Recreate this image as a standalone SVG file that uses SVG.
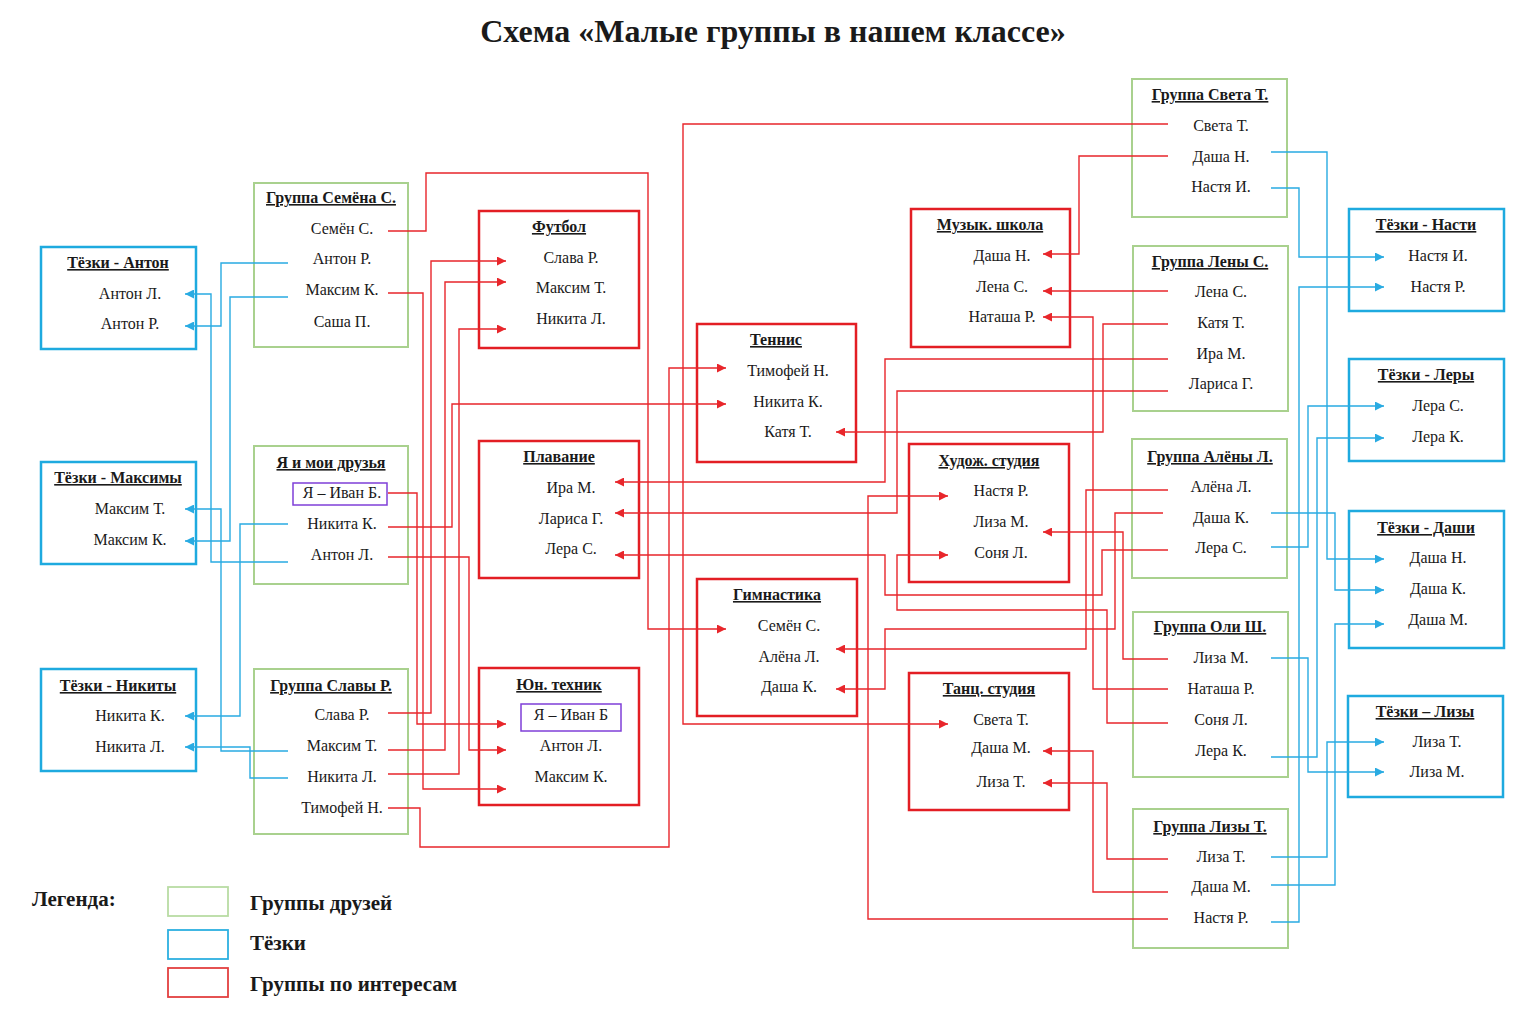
<svg xmlns="http://www.w3.org/2000/svg" width="1536" height="1012" viewBox="0 0 1536 1012">
<defs>
<marker id="ar" markerUnits="userSpaceOnUse" markerWidth="9" markerHeight="9" viewBox="0 0 8 8" refX="8" refY="4" orient="auto"><path d="M0,0 L8,4 L0,8 z" fill="#e8262b"/></marker>
<marker id="ab" markerUnits="userSpaceOnUse" markerWidth="9" markerHeight="9" viewBox="0 0 8 8" refX="8" refY="4" orient="auto"><path d="M0,0 L8,4 L0,8 z" fill="#29abe2"/></marker>
</defs>
<style>
text{font-family:"Liberation Serif","Times New Roman",serif;fill:#1a1a1a;text-anchor:middle;font-size:16px}
.h{font-weight:bold;font-size:16px;text-decoration:underline}
.g{fill:#fff;stroke:#a9d18e;stroke-width:2}
.bl{fill:#fff;stroke:#1eaadf;stroke-width:2.5}
.rd{fill:#fff;stroke:#e31e24;stroke-width:2.5}
.pp{fill:none;stroke:#7f3fd8;stroke-width:1.5}
.cr{fill:none;stroke:#e8262b;stroke-width:1.4;marker-end:url(#ar)}
.cb{fill:none;stroke:#29abe2;stroke-width:1.4;marker-end:url(#ab)}
.lg{font-weight:bold;font-size:21px;text-anchor:start}
</style>
<rect width="1536" height="1012" fill="#fff"/>
<text x="773" y="42" style="font-weight:bold;font-size:32px">Схема «Малые группы в нашем классе»</text>

<g id="grp-semen"><rect class="g" x="254" y="183" width="154" height="164"/><text class="h" x="331" y="203">Группа Семёна С.</text><text x="342" y="234">Семён С.</text><text x="342" y="264">Антон Р.</text><text x="342" y="295">Максим К.</text><text x="342" y="327">Саша П.</text></g>
<g id="grp-me"><rect class="g" x="254" y="446" width="154" height="138"/><text class="h" x="331" y="468">Я и мои друзья</text><rect class="pp" x="293" y="483" width="94" height="22"/><text x="342" y="498">Я – Иван Б.</text><text x="342" y="529">Никита К.</text><text x="342" y="560">Антон Л.</text></g>
<g id="grp-slava"><rect class="g" x="254" y="669" width="154" height="165"/><text class="h" x="331" y="691">Группа Славы Р.</text><text x="342" y="720">Слава Р.</text><text x="342" y="751">Максим Т.</text><text x="342" y="782">Никита Л.</text><text x="342" y="813">Тимофей Н.</text></g>
<g id="grp-sveta"><rect class="g" x="1132" y="79" width="155" height="138"/><text class="h" x="1210" y="100">Группа Света Т.</text><text x="1221" y="131">Света Т.</text><text x="1221" y="162">Даша Н.</text><text x="1221" y="192">Настя И.</text></g>
<g id="grp-lena"><rect class="g" x="1133" y="246" width="155" height="165"/><text class="h" x="1210" y="267">Группа Лены С.</text><text x="1221" y="297">Лена С.</text><text x="1221" y="328">Катя Т.</text><text x="1221" y="359">Ира М.</text><text x="1221" y="389">Лариса Г.</text></g>
<g id="grp-alena"><rect class="g" x="1132" y="439" width="155" height="139"/><text class="h" x="1210" y="462">Группа Алёны Л.</text><text x="1221" y="492">Алёна Л.</text><text x="1221" y="523">Даша К.</text><text x="1221" y="553">Лера С.</text></g>
<g id="grp-olya"><rect class="g" x="1133" y="612" width="155" height="165"/><text class="h" x="1210" y="632">Группа Оли Ш.</text><text x="1221" y="663">Лиза М.</text><text x="1221" y="694">Наташа Р.</text><text x="1221" y="725">Соня Л.</text><text x="1221" y="756">Лера К.</text></g>
<g id="grp-liza"><rect class="g" x="1133" y="809" width="155" height="139"/><text class="h" x="1210" y="832">Группа Лизы Т.</text><text x="1221" y="862">Лиза Т.</text><text x="1221" y="892">Даша М.</text><text x="1221" y="923">Настя Р.</text></g>

<g id="tz-anton"><rect class="bl" x="41" y="247" width="155" height="102"/><text class="h" x="118" y="268">Тёзки - Антон</text><text x="130" y="299">Антон Л.</text><text x="130" y="329">Антон Р.</text></g>
<g id="tz-maksim"><rect class="bl" x="41" y="462" width="155" height="102"/><text class="h" x="118" y="483">Тёзки - Максимы</text><text x="130" y="514">Максим Т.</text><text x="130" y="545">Максим К.</text></g>
<g id="tz-nikita"><rect class="bl" x="41" y="669" width="155" height="102"/><text class="h" x="118" y="691">Тёзки - Никиты</text><text x="130" y="721">Никита К.</text><text x="130" y="752">Никита Л.</text></g>
<g id="tz-nastya"><rect class="bl" x="1349" y="209" width="155" height="102"/><text class="h" x="1426" y="230">Тёзки - Насти</text><text x="1438" y="261">Настя И.</text><text x="1438" y="292">Настя Р.</text></g>
<g id="tz-lera"><rect class="bl" x="1349" y="359" width="155" height="102"/><text class="h" x="1426" y="380">Тёзки - Леры</text><text x="1438" y="411">Лера С.</text><text x="1438" y="442">Лера К.</text></g>
<g id="tz-dasha"><rect class="bl" x="1349" y="511" width="155" height="137"/><text class="h" x="1426" y="533">Тёзки - Даши</text><text x="1438" y="563">Даша Н.</text><text x="1438" y="594">Даша К.</text><text x="1438" y="625">Даша М.</text></g>
<g id="tz-liza"><rect class="bl" x="1348" y="696" width="155" height="101"/><text class="h" x="1425" y="717">Тёзки – Лизы</text><text x="1437" y="747">Лиза Т.</text><text x="1437" y="777">Лиза М.</text></g>

<g id="int-football"><rect class="rd" x="479" y="211" width="160" height="137"/><text class="h" x="559" y="232">Футбол</text><text x="571" y="263">Слава Р.</text><text x="571" y="293">Максим Т.</text><text x="571" y="324">Никита Л.</text></g>
<g id="int-swim"><rect class="rd" x="479" y="441" width="160" height="137"/><text class="h" x="559" y="462">Плавание</text><text x="571" y="493">Ира М.</text><text x="571" y="524">Лариса Г.</text><text x="571" y="554">Лера С.</text></g>
<g id="int-tech"><rect class="rd" x="479" y="668" width="160" height="137"/><text class="h" x="559" y="690">Юн. техник</text><rect class="pp" x="521" y="704" width="100" height="27"/><text x="571" y="720">Я – Иван Б</text><text x="571" y="751">Антон Л.</text><text x="571" y="782">Максим К.</text></g>
<g id="int-tennis"><rect class="rd" x="697" y="324" width="159" height="138"/><text class="h" x="776" y="345">Теннис</text><text x="788" y="376">Тимофей Н.</text><text x="788" y="407">Никита К.</text><text x="788" y="437">Катя Т.</text></g>
<g id="int-gym"><rect class="rd" x="697" y="579" width="160" height="137"/><text class="h" x="777" y="600">Гимнастика</text><text x="789" y="631">Семён С.</text><text x="789" y="662">Алёна Л.</text><text x="789" y="692">Даша К.</text></g>
<g id="int-music"><rect class="rd" x="911" y="209" width="159" height="138"/><text class="h" x="990" y="230">Музык. школа</text><text x="1002" y="261">Даша Н.</text><text x="1002" y="292">Лена С.</text><text x="1002" y="322">Наташа Р.</text></g>
<g id="int-art"><rect class="rd" x="909" y="444" width="160" height="138"/><text class="h" x="989" y="466">Худож. студия</text><text x="1001" y="496">Настя Р.</text><text x="1001" y="527">Лиза М.</text><text x="1001" y="558">Соня Л.</text></g>
<g id="int-dance"><rect class="rd" x="909" y="673" width="160" height="137"/><text class="h" x="989" y="694">Танц. студия</text><text x="1001" y="725">Света Т.</text><text x="1001" y="753">Даша М.</text><text x="1001" y="787">Лиза Т.</text></g>

<g id="connectors">
<path class="cb" d="M288,263 H221 V326 H185"/>
<path class="cb" d="M288,297 H230 V541 H185"/>
<path class="cb" d="M288,562 H211 V294 H185"/>
<path class="cb" d="M288,751 H221 V509 H185"/>
<path class="cb" d="M288,524 H240 V716 H185"/>
<path class="cb" d="M288,778 H250 V747 H185"/>
<path class="cb" d="M1271,152 H1327 V559 H1384"/>
<path class="cb" d="M1271,188 H1299 V257 H1384"/>
<path class="cb" d="M1271,922 H1299 V287 H1384"/>
<path class="cb" d="M1271,547 H1308 V406 H1384"/>
<path class="cb" d="M1271,757 H1317 V438 H1384"/>
<path class="cb" d="M1271,513 H1335 V590 H1384"/>
<path class="cb" d="M1271,885 H1335 V624 H1384"/>
<path class="cb" d="M1271,658 H1308 V772 H1384"/>
<path class="cb" d="M1271,857 H1327 V742 H1384"/>

<path class="cr" d="M388,231 H426 V173 H648 V629 H726"/>
<path class="cr" d="M388,293 H423 V789 H506"/>
<path class="cr" d="M388,713 H431 V261 H506"/>
<path class="cr" d="M388,750 H445 V282 H506"/>
<path class="cr" d="M388,774 H459 V329 H506"/>
<path class="cr" d="M388,527 H452 V404 H726"/>
<path class="cr" d="M388,808 H420 V847 H669 V368 H726"/>
<path class="cr" d="M388,493 H417 V724 H506"/>
<path class="cr" d="M388,557 H469 V750 H506"/>

<path class="cr" d="M1168,124 H683 V724 H948"/>
<path class="cr" d="M1168,156 H1079 V254 H1043"/>
<path class="cr" d="M1168,291 H1043"/>
<path class="cr" d="M1168,689 H1093 V317 H1043"/>
<path class="cr" d="M1168,324 H1103 V432 H836"/>
<path class="cr" d="M1168,359 H885 V482 H615"/>
<path class="cr" d="M1168,391 H897 V513 H615"/>
<path class="cr" d="M1168,550 H1102 V595 H885 V555 H615"/>
<path class="cr" d="M1168,919 H868 V496 H948"/>
<path class="cr" d="M1168,723 H1107 V610 H897 V555 H948"/>
<path class="cr" d="M1168,659 H1123 V532 H1043"/>
<path class="cr" d="M1168,490 H1086 V649 H836"/>
<path class="cr" d="M1163,513 H1115 V629 H885 V689 H836"/>
<path class="cr" d="M1168,892 H1093 V751 H1043"/>
<path class="cr" d="M1168,859 H1107 V783 H1043"/>
</g>

<g id="legend">
<text class="lg" x="32" y="906">Легенда:</text>
<rect x="168" y="887" width="60" height="29" fill="none" stroke="#b9dca4" stroke-width="1.8"/>
<rect x="168" y="930" width="60" height="29" fill="none" stroke="#2db0e0" stroke-width="1.8"/>
<rect x="168" y="968" width="60" height="29" fill="none" stroke="#e34040" stroke-width="1.8"/>
<text class="lg" x="250" y="910">Группы друзей</text>
<text class="lg" x="250" y="950">Тёзки</text>
<text class="lg" x="250" y="991">Группы по интересам</text>
</g>
</svg>
